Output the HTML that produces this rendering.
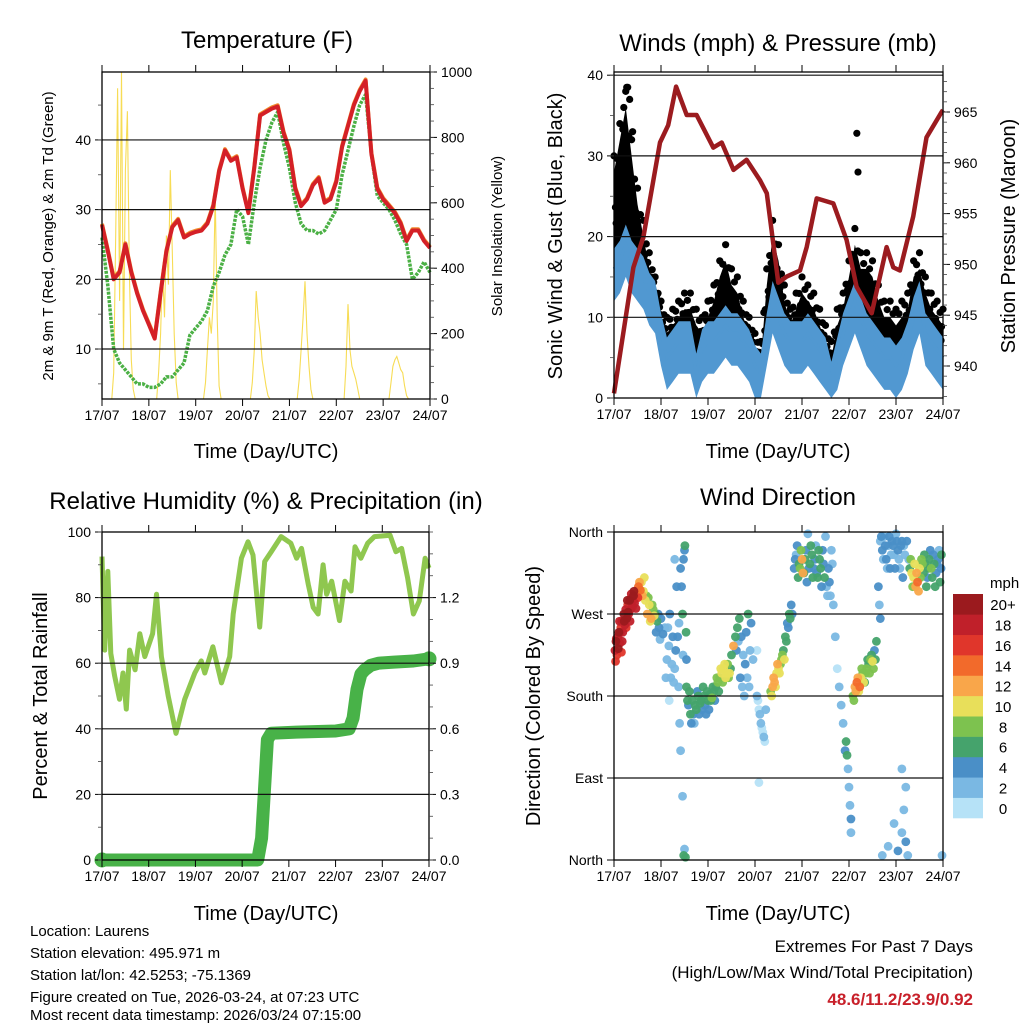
<!DOCTYPE html>
<html><head><meta charset="utf-8"><style>
html,body{margin:0;padding:0;background:#fff;}
svg{display:block;font-family:"Liberation Sans",Arial,sans-serif;}
</style></head><body>
<svg id="c" width="1024" height="1024" viewBox="0 0 1024 1024">
<rect x="0" y="0" width="1024" height="1024" fill="#fff"/>
<text x="267" y="48" font-size="24" text-anchor="middle">Temperature (F)</text>
<text x="778" y="51" font-size="24" text-anchor="middle">Winds (mph) &amp; Pressure (mb)</text>
<text x="266" y="509" font-size="24" text-anchor="middle">Relative Humidity (%) &amp; Precipitation (in)</text>
<text x="778" y="505" font-size="24" text-anchor="middle">Wind Direction</text>
<text x="266" y="458" font-size="20" text-anchor="middle">Time (Day/UTC)</text>
<text x="778" y="458" font-size="20" text-anchor="middle">Time (Day/UTC)</text>
<text x="266" y="920" font-size="20" text-anchor="middle">Time (Day/UTC)</text>
<text x="778" y="920" font-size="20" text-anchor="middle">Time (Day/UTC)</text>
<text transform="translate(53,236) rotate(-90)" font-size="15" text-anchor="middle">2m &amp; 9m T (Red, Orange) &amp; 2m Td (Green)</text>
<text transform="translate(502,236) rotate(-90)" font-size="15" text-anchor="middle">Solar Insolation (Yellow)</text>
<text transform="translate(562,236) rotate(-90)" font-size="20" text-anchor="middle">Sonic Wind &amp; Gust (Blue, Black)</text>
<text transform="translate(1015,236) rotate(-90)" font-size="20" text-anchor="middle">Station Pressure (Maroon)</text>
<text transform="translate(47,696) rotate(-90)" font-size="20" text-anchor="middle">Percent &amp; Total Rainfall</text>
<text transform="translate(540,696) rotate(-90)" font-size="20" text-anchor="middle">Direction (Colored By Speed)</text>
<text x="990" y="588" font-size="15">mph</text>
<g font-size="15">
<text x="30" y="936">Location: Laurens</text>
<text x="30" y="958">Station elevation: 495.971 m</text>
<text x="30" y="980">Station lat/lon: 42.5253; -75.1369</text>
<text x="30" y="1002">Figure created on Tue, 2026-03-24, at 07:23 UTC</text>
<text x="30" y="1024" dy="-4">Most recent data timestamp: 2026/03/24 07:15:00</text>
</g>
<text x="973" y="952" font-size="17" text-anchor="end">Extremes For Past 7 Days</text>
<text x="973" y="978" font-size="17" text-anchor="end">(High/Low/Max Wind/Total Precipitation)</text>
<text x="973" y="1005" font-size="17" font-weight="bold" fill="#c8202a" text-anchor="end">48.6/11.2/23.9/0.92</text>
</svg>
<script>
const dayLabels=["17/07","18/07","19/07","20/07","21/07","22/07","23/07","24/07"];
const tempStepHours=3;
const tempRed=[27.8,24,20,21,25,21,18,15.5,13.5,11.5,18,24,27.5,28.5,26,26.5,26.8,27,28,30.5,35.5,38.5,37,37.5,33,29.5,36,43.5,44,44.5,44.8,41,38.5,33,30.5,31.5,33.5,34.5,31,31.5,34,39,42,45,47,48.5,38,33,31.5,30.5,29.5,28,25.5,27,27,25.5,24.5];
const dewGreen=[26,19,10,8,7,6,5,5,4.5,4.5,5,6,6,7,8,12,13,14,15.5,19,21,23.5,25,30,29,25,31,36,40,42.5,44,39.5,36,31,28,27,27,26.5,27,28.5,30,35,38.5,42,45,46.5,38,32,31,30,28.5,26.5,25,20,21,22.5,21];
const solarHourly=[
0,0,0,0,0,0,80,500,950,300,1000,150,700,880,400,120,30,0,0,0,0,0,0,0,
0,0,0,0,0,80,200,400,250,500,350,700,450,200,50,0,0,0,0,0,0,0,0,0,
0,0,0,0,0,50,150,250,200,300,630,250,40,0,0,0,0,0,0,0,0,0,0,0,
0,0,0,0,0,50,150,330,250,200,120,80,40,10,0,0,0,0,0,0,0,0,0,0,
0,0,0,0,0,60,150,250,360,200,100,30,0,0,0,0,0,0,0,0,0,0,0,0,
0,0,0,0,0,100,290,150,100,80,60,30,0,0,0,0,0,0,0,0,0,0,0,0,
0,0,0,0,50,100,120,130,110,90,80,40,10,0,0,0,0,0,0,0,0,0,0,0,0];
const tempTicks=[10,20,30,40];
const solarTicks=[0,200,400,600,800,1000];

const windStepHours=3;
const windSpeed=[16,17,19,17,16,15,13,12,8,5,6,7,7,7,3,6,7,7,8,9,8,8,7,6,4,3,8,12,10,8,7,7,7,8,7,6,5,2,5,8,10,12,10,8,7,6,5,5,4,5,7,10,12,8,7,6,5];
const windGust=[30,34,38,32,26,22,18,15,12,10,11,12,13,13,11,10,12,14,17,19,16,15,12,10,8,7,16,22,19,14,11,13,15,14,13,11,9,7,11,13,17,21,18,18,17,14,12,12,11,12,13,17,18,15,13,12,11];
const gustExtraHours=[124,124.6,5,6.5,7,8,9.5];
const gustExtraVals=[32.8,28,36,38.5,38.5,37,33];
const presHours=[0,9.9,15,23.5,27.7,31.7,37.1,42.2,50.7,55,61,67.7,74.5,78,83.9,88.2,95,98.4,103.5,112,118.8,123.9,131.6,139.2,142.6,146,152.8,159.6,167.3,168];
const presVals=[937.3,949.7,952.7,962,963.7,967.5,964.7,964.7,961.5,962,959.3,960.3,958.3,957,948.2,948.8,949.4,951.7,956.5,956,952.4,947.8,945.2,951.7,949.7,949.4,954.7,962.5,965,965.2];
const windTicks=[0,10,20,30,40];
const presTicks=[940,945,950,955,960,965];

const rhHours=[0,1.4,3,4.5,6.5,9,10.8,12.5,14.2,17,19.4,22,26,28,30.5,34,38,42.5,47.7,51,52.8,57,61.4,65.6,67.4,71.6,75,77.6,81,83.6,87,92,97,100,102.5,106,108.5,111,113.6,115.4,118,122,124.8,128,130,133,136.5,140,148,151,153.9,157,160,163,166,168];
const rhVals=[92.5,64,88,63,56,49,57,46,64,58,69,62,69,81,62,50,38.6,49,57,60.7,57,65,54,62,75,92,97,93,71,91,94,98.6,96.6,92,95,84,77,75,90,81,85,73,85,82,95.5,92,96.6,98.6,99,94,95,86,75,79,92,89];
const prHours=[0,80,82,84,85,87,100,120,127,129,131,133,135,138,142,150,160,168];
const prVals=[0,0,0.1,0.4,0.55,0.58,0.585,0.59,0.6,0.65,0.78,0.85,0.87,0.89,0.9,0.905,0.91,0.92];
const rhTicks=[0,20,40,60,80,100];
const prTicks=[0.0,0.3,0.6,0.9,1.2];

const dirHours=[0.5,1,1.5,2,2.5,3,3.5,4,4.5,5,5.5,6,6.5,7,7.5,8,8.5,9,9.5,10,10.5,11,12,12.5,13,13.5,
14,15,16,16.5,17,18,19,20,21,22,23,24,25,
26,27,28,29,30,31,32,33,33.5,34,35,36,36,34,35,36.5,37,35.6,
37,38,39,40,41,42,43,44,45,46,47,48,49,50,51,52,53,54,55,56,57,58,59,60,61,62,63,64,65,66,67,68,69,70,71,
73,74,75,76,77,73,74,
80,81,82,83,84,85,86,87,88,89,90,91,
92,93,94,95,96,97,98,99,100,101,102,103,104,105,106,107,108,109,110,111,
113,114,115,116,117,118,118.5,119,119.5,120,120.5,121,121,
122,123,124,125,126,127,128,129,130,131,132,133,134,
135,135.5,136,136,137,138,139,140,141,142,143,144,145,146,147,148,
137,140,143,145,147,148,149,150,147,149,
151,152,153,154,155,156,157,158,159,160,161,162,163,164,165,166,167,167.5];
const dirVals=[230,240,225,245,250,238,255,262,250,270,258,275,265,280,270,285,275,288,278,290,282,287,295,300,305,296,
305,295,285,290,270,280,265,275,270,262,255,265,248,
255,220,235,200,245,330,300,190,150,120,70,12,340,320,270,3,220,5,
190,170,160,175,150,165,180,172,165,180,160,175,182,178,185,190,195,200,205,210,200,215,205,225,235,245,255,265,245,225,215,200,190,260,220,
180,165,150,140,130,230,85,
185,190,195,205,210,215,225,220,240,255,265,270,
320,335,310,320,330,315,340,358,325,335,320,345,310,330,300,325,355,290,305,340,
245,210,190,170,150,120,130,115,100,80,60,45,30,
180,190,195,185,200,205,195,210,215,220,218,230,240,
300,280,265,350,340,355,330,345,320,350,335,358,340,320,350,345,
5,15,40,10,30,55,20,5,100,80,
320,315,310,300,305,320,330,315,325,310,330,320,335,300,325,340,320,5];
const dirSpeeds=[18,20,17,19,20,18,17,19,18,20,18,19,20,17,19,20,18,19,17,20,18,16,15,14,12,14,
11,10,11,9,12,10,12,9,7,6,4,5,4,
3,2,3,2,5,3,4,2,3,2,3,3,4,5,6,6,4,6,
6,5,6,7,3,6,7,6,4,7,5,6,7,8,7,6,8,9,10,10,11,9,10,7,12,6,7,6,4,3,4,2,3,4,2,
2,1,2,1,1,0,0,
8,12,13,10,11,9,8,10,6,5,6,4,
4,3,6,8,12,7,5,3,6,7,4,3,6,7,4,5,2,3,4,2,
2,1,2,3,2,4,6,6,3,2,3,4,2,
8,12,14,11,10,8,7,9,6,8,10,5,6,
4,3,5,3,4,2,4,3,5,4,2,3,4,3,4,3,
3,2,2,4,3,2,4,3,3,2,
7,10,11,12,14,10,8,6,7,5,6,8,4,6,5,3,4,3];
const dirHoursB=[1.2,2.2,3.2,4.2,5.2,6.2,7.2,8.2,9.2,10.2,11.2,12.2,6.8,8.8,3.8,0.8,2.8,
14.5,15.5,17.5,18.5,19.5,20.5,22.5,21.5,23.5,
27.5,28.5,29.5,30.5,31.5,32.5,33.2,34.5,35.5,36.2,36.8,35.2,26.5,28.2,31,
37.5,38.5,39.5,40.5,41.5,42.5,43.5,44.5,45.5,46.5,47.5,48.5,49.5,50.5,51.5,52.5,53.5,54.5,55.5,56.5,57.5,58.5,59.5,62.5,63.5,64.5,65.5,66.5,67.5,68.5,69.5,
73.5,74.5,75.5,76.5,77.5,
80.5,81.5,82.5,83.5,84.5,85.5,86.5,87.5,88.5,89.5,90.5,
92.5,93.5,94.5,95.5,96.5,97.5,98.5,99.5,100.5,101.5,102.5,103.5,104.5,105.5,106.5,107.5,108.5,109.5,110.5,111.5,112,
122.5,123.5,124.5,125.5,126.5,127.5,128.5,129.5,130.5,131.5,132.5,133.5,
136.5,137.5,138.5,139.5,140.5,141.5,142.5,143.5,144.5,145.5,146.5,147.5,148.5,149.5,150.5,
151.5,152.5,153.5,154.5,155.5,156.5,157.5,158.5,159.5,160.5,161.5,162.5,163.5,164.5,165.5,166.5,167.2];
const dirValsB=[243,232,250,240,262,255,272,262,280,295,276,288,285,292,228,218,262,
290,310,288,262,280,268,270,250,242,
255,270,215,195,230,245,260,300,330,345,250,225,200,175,210,
175,185,150,160,170,185,160,175,190,170,185,165,175,190,175,200,185,210,195,215,205,200,210,230,240,200,190,180,250,270,230,
175,160,145,135,165,
180,200,190,215,205,220,230,245,260,270,280,
330,345,325,340,315,330,305,320,345,310,330,315,340,320,340,310,300,320,290,325,280,
175,185,200,190,210,195,205,220,205,225,210,220,
355,330,345,320,355,335,345,320,350,330,345,310,335,350,330,
330,300,325,315,295,310,325,335,300,320,340,310,325,315,330,305,335];
const dirSpeedsB=[19,20,18,19,20,17,20,19,18,20,19,17,20,19,17,16,18,
12,10,9,11,8,10,5,4,3,
3,4,2,3,4,5,3,4,5,6,6,3,2,1,2,
6,7,5,4,6,5,4,7,6,5,7,4,6,7,5,8,7,10,9,11,10,8,7,4,3,4,3,2,5,6,3,
1,2,1,2,2,
10,13,11,12,10,8,7,6,5,6,5,
4,5,7,9,13,6,5,4,6,7,5,4,7,6,4,6,3,4,3,2,3,
9,13,12,14,9,10,8,7,9,6,9,7,
4,3,4,3,4,3,5,4,4,3,4,5,3,4,3,
8,9,11,13,12,9,8,7,6,7,5,6,7,5,4,7,6];
const speedColors=["#b6e2f7","#7ab8e3","#4a8fc7","#45a36c","#7dc24f","#e8df5a","#f9a64a","#f26a2b","#e0362b","#c0202a","#9b1a1e"];
const speedLabels=["0","2","4","6","8","10","12","14","16","18","20+"];
const dirTicks=[0,90,180,270,360];
const dirTickLabels=["North","East","South","West","North"];

const NS="http://www.w3.org/2000/svg";
const svg=document.getElementById('c');
function mk(tag,attrs,parent){const e=document.createElementNS(NS,tag);for(const k in attrs)e.setAttribute(k,attrs[k]);(parent||svg).appendChild(e);return e;}
function poly(xs,ys,fx,fy){return xs.map((x,i)=>fx(x).toFixed(1)+','+fy(ys[i]).toFixed(1)).join(' ');}
function stepHours(n,step){const a=[];for(let i=0;i<n;i++)a.push(i*step);return a;}

const P1={x0:102,x1:430,y0:72,y1:399};
const x1s=h=>P1.x0+h/168*(P1.x1-P1.x0);
const yT=t=>399-(t-2.83)*6.97;
const ySol=v=>399-v*0.327;
const P2={x0:614,x1:943,y0:72,y1:398};
const x2s=h=>P2.x0+h/168*(P2.x1-P2.x0);
const yW=v=>398-v*8.07;
const yP=p=>366-(p-940)*10.16;
const P3={x0:102,x1:429,y0:532,y1:860};
const x3s=h=>P3.x0+h/168*(P3.x1-P3.x0);
const yRH=v=>860-v*3.28;
const yPr=v=>860-v/1.5*328;
const P4={x0:614,x1:943,y0:532,y1:860};
const x4s=h=>P4.x0+h/168*(P4.x1-P4.x0);
const yD=d=>860-d/360*328;

function xAxis(P,fx,name){
  const g=mk('g',{});
  
  
  dayLabels.forEach((lab,i)=>{
    const x=fx(i*24);
    const t1=mk('line',{x1:x,x2:x,y1:P.y0-7,y2:P.y0,stroke:'#000','stroke-width':1},g);
    
    
    const t2=mk('line',{x1:x,x2:x,y1:P.y1,y2:P.y1+7,stroke:'#000','stroke-width':1},g);
    
    
    const tx=mk('text',{x:x,y:P.y1+21,'font-size':14,'text-anchor':'middle'},g);
    tx.textContent=lab;
    
    
  });
}
function yAxis(P,vals,fy,side,labels,name,minorStep){
  const g=mk('g',{});
  
  
  const xe=side==='left'?P.x0:P.x1;
  const dir=side==='left'?-1:1;
  vals.forEach((v,i)=>{
    const y=fy(v);
    const t=mk('line',{x1:xe,x2:xe+dir*7,y1:y,y2:y,stroke:'#000','stroke-width':1},g);
    
    
    const tx=mk('text',{x:xe+dir*11,y:y+5,'font-size':14,'text-anchor':side==='left'?'end':'start'},g);
    tx.textContent=labels[i];
    
    
  });
  if(minorStep){
    const lo=vals[0],hi=vals[vals.length-1];
    for(let v=lo-minorStep*20;v<=hi+minorStep*20;v+=minorStep){
      const y=fy(v);
      if(y<P.y0-0.5||y>P.y1+0.5)continue;
      const m=mk('line',{x1:xe,x2:xe+dir*4,y1:y,y2:y,stroke:'#444','stroke-width':0.8},g);
      
      
    }
  }
}
function gridLines(P,vals,fy,name){
  vals.forEach(v=>{
    const y=fy(v);
    const l=mk('line',{x1:P.x0,x2:P.x1,y1:y,y2:y,stroke:'#111','stroke-width':1.2});
    
    
  });
}
function frame(P,name){
  const r=mk('rect',{x:P.x0,y:P.y0,width:P.x1-P.x0,height:P.y1-P.y0,fill:'none',stroke:'#000','stroke-width':1.3});
  
  
}

// Panel 1
const tH=stepHours(tempRed.length,tempStepHours);
const solH=stepHours(solarHourly.length,1);
const sol=mk('polyline',{points:poly(solH,solarHourly,x1s,ySol),fill:'none',stroke:'#f7dc55','stroke-width':1.1});


const dew=mk('polyline',{points:poly(stepHours(dewGreen.length,tempStepHours),dewGreen,x1s,yT),fill:'none',stroke:'#4bb045','stroke-width':3.5,'stroke-linejoin':'round','stroke-dasharray':'3 1.2'});


const org=mk('polyline',{points:poly(tH,tempRed,x1s,t=>yT(t)-1.2),fill:'none',stroke:'#f08a2c','stroke-width':4,'stroke-linejoin':'round'});


const red=mk('polyline',{points:poly(tH,tempRed,x1s,yT),fill:'none',stroke:'#d42027','stroke-width':4,'stroke-linejoin':'round'});


gridLines(P1,tempTicks,yT,'temperature-grid-line');
frame(P1,'temperature-plot-frame');
xAxis(P1,x1s,'temperature-x-axis');
yAxis(P1,tempTicks,yT,'left',tempTicks.map(String),'temperature-y-axis',5);
yAxis(P1,solarTicks,ySol,'right',solarTicks.map(String),'solar-y-axis',50);

// Panel 2
const wH=stepHours(windSpeed.length,windStepHours);
const gustBandTop=windGust.map(v=>v-2);
const blackBand=mk('polygon',{points:poly(wH,gustBandTop,x2s,yW)+' '+poly(wH.slice().reverse(),windSpeed.slice().reverse(),x2s,yW),fill:'#000'});


wH.forEach((h,i)=>{
  const d=mk('circle',{cx:x2s(h),cy:yW(windGust[i]),r:3.6,fill:'#000'});
  
  
  if(i<wH.length-1){
    const g1=windGust[i],g2=windGust[i+1],w1=windSpeed[i],w2=windSpeed[i+1];
    [[0.75,0.5],[1.5,0.85],[2.25,0.6],[1.1,0.35],[2.0,0.3]].forEach(([dh,f])=>{
      const t=dh/3;
      const gv=g1+(g2-g1)*t, wv=w1+(w2-w1)*t;
      const d2=mk('circle',{cx:x2s(h+dh),cy:yW(wv+(gv-wv)*f),r:3.6,fill:'#000'});
      
      
    });
  }
});
gustExtraHours.forEach((h,i)=>{
  const d=mk('circle',{cx:x2s(h),cy:yW(gustExtraVals[i]),r:3.6,fill:'#000'});
  
  
});
const wTop=windSpeed.map(v=>v+2.5);
const wBot=windSpeed.map(v=>Math.max(0,v-4));
const blueBand=mk('polygon',{points:poly(wH,wTop,x2s,yW)+' '+poly(wH.slice().reverse(),wBot.slice().reverse(),x2s,yW),fill:'#5198d1'});


const blueLine=mk('polyline',{points:poly(wH,windSpeed,x2s,yW),fill:'none',stroke:'#5198d1','stroke-width':3});


const pres=mk('polyline',{points:poly(presHours,presVals,x2s,yP),fill:'none',stroke:'#9b1b1f','stroke-width':4.5,'stroke-linejoin':'round'});


gridLines(P2,[10,20,30,40],yW,'wind-grid-line');
frame(P2,'winds-plot-frame');
xAxis(P2,x2s,'winds-x-axis');
yAxis(P2,windTicks,yW,'left',windTicks.map(String),'wind-y-axis',5);
yAxis(P2,presTicks,yP,'right',presTicks.map(String),'pressure-y-axis',1);

// Panel 3
const rh=mk('polyline',{points:poly(rhHours,rhVals,x3s,yRH),fill:'none',stroke:'#8fc74f','stroke-width':5,'stroke-linejoin':'round'});


const pr=mk('polyline',{points:poly(prHours,prVals,x3s,yPr),fill:'none',stroke:'#48b248','stroke-width':13,'stroke-linejoin':'round','stroke-linecap':'round'});


const prEnd=mk('circle',{cx:x3s(prHours[prHours.length-1]),cy:yPr(prVals[prVals.length-1]),r:7.5,fill:'#48b248'});


const prStart=mk('circle',{cx:x3s(prHours[0]),cy:yPr(prVals[0]),r:7.5,fill:'#48b248'});


gridLines(P3,[20,40,60,80],yRH,'humidity-grid-line');
frame(P3,'humidity-plot-frame');
xAxis(P3,x3s,'humidity-x-axis');
yAxis(P3,rhTicks,yRH,'left',rhTicks.map(String),'humidity-y-axis',10);
yAxis(P3,prTicks,yPr,'right',prTicks.map(v=>v.toFixed(1)),'precipitation-y-axis',0.1);

// Panel 4
const allDirH=dirHours.concat(dirHoursB);
const allDirV=dirVals.concat(dirValsB);
const allDirS=dirSpeeds.concat(dirSpeedsB);
const order=allDirS.map((s,i)=>i).sort((a,b)=>allDirS[a]-allDirS[b]);
order.forEach(i=>{
  const bin=Math.max(0,Math.min(10,Math.floor(allDirS[i]/2)));
  const c=mk('circle',{cx:x4s(allDirH[i]),cy:yD(allDirV[i]),r:4.4,fill:speedColors[bin],'fill-opacity':0.95});
  
  
});
gridLines(P4,[90,180,270],yD,'direction-grid-line');
frame(P4,'direction-plot-frame');
xAxis(P4,x4s,'direction-x-axis');
yAxis(P4,dirTicks,yD,'left',dirTickLabels,'direction-y-axis',0);

// colorbar
const cb=mk('g',{});


const cbTop=594,cbH=224/11;
speedColors.forEach((col,i)=>{
  const y=cbTop+(10-i)*cbH;
  const r=mk('rect',{x:953,y:y,width:30,height:cbH+0.3,fill:col},cb);
  
  
  const t=mk('text',{x:1003,y:y+cbH/2+6,'font-size':15,'text-anchor':'middle'},cb);
  t.textContent=speedLabels[i];
  
  
});
</script>
</body></html>
